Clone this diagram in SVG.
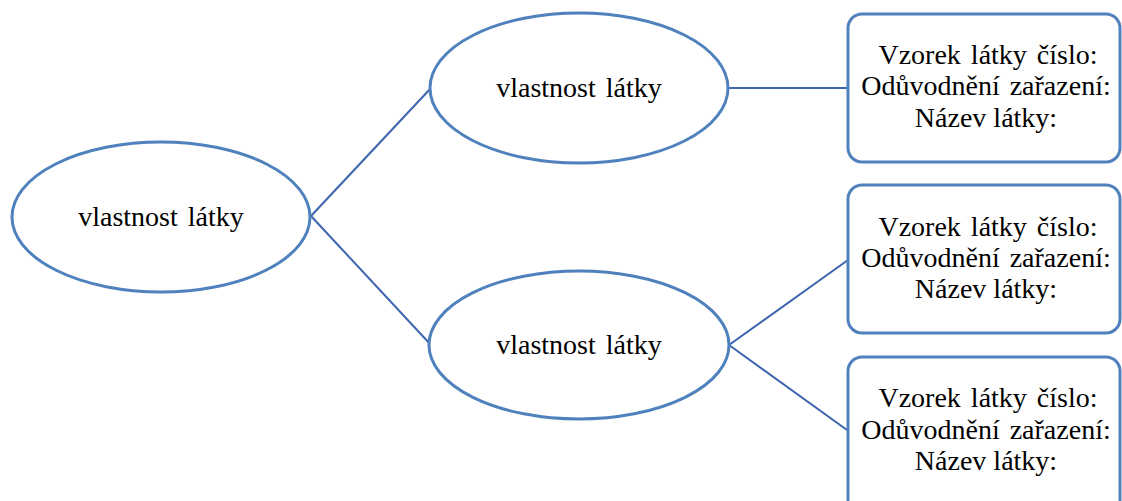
<svg xmlns="http://www.w3.org/2000/svg" width="1122" height="501" viewBox="0 0 1122 501">
<style>
.node{fill:#fff;stroke:#4F81BD;stroke-width:3}
.conn{stroke:#3D64AE;stroke-width:2;fill:none}
.t{font-family:'Liberation Serif','Times New Roman',Tinos,serif;font-size:28px;fill:#000;text-anchor:middle}
.w{word-spacing:3px}
</style>
<rect width="1122" height="501" fill="#fff"/>
<g id="connectors">
<line class="conn" x1="311" y1="216" x2="431" y2="88"/>
<line class="conn" x1="311" y1="216" x2="431" y2="345"/>
<line class="conn" x1="728" y1="88" x2="848" y2="88"/>
<line class="conn" x1="729" y1="345" x2="848" y2="260"/>
<line class="conn" x1="729" y1="345" x2="847" y2="430"/>
</g>
<g class="t">
<g id="root">
<ellipse class="node" cx="161" cy="217" rx="149" ry="75"/>
<text class="t w" x="161" y="226">vlastnost látky</text>
</g>
<g id="prop-top">
<ellipse class="node" cx="579" cy="88" rx="149" ry="75"/>
<text class="t w" x="579" y="97">vlastnost látky</text>
</g>
<g id="prop-bottom">
<ellipse class="node" cx="579" cy="345" rx="150" ry="74"/>
<text class="t w" x="579" y="354">vlastnost látky</text>
</g>
<g id="box1">
<rect class="node" x="848" y="14" width="272" height="148" rx="14"/>
<text class="t w" x="988" y="64">Vzorek látky číslo:</text>
<text class="t w" x="986" y="95">Odůvodnění zařazení:</text>
<text class="t" x="986" y="127">Název látky:</text>
</g>
<g id="box2">
<rect class="node" x="848" y="185" width="272" height="148" rx="14"/>
<text class="t w" x="988" y="236">Vzorek látky číslo:</text>
<text class="t w" x="986" y="267">Odůvodnění zařazení:</text>
<text class="t" x="986" y="298">Název látky:</text>
</g>
<g id="box3">
<rect class="node" x="848" y="357" width="272" height="160" rx="14"/>
<text class="t w" x="988" y="407">Vzorek látky číslo:</text>
<text class="t w" x="986" y="439">Odůvodnění zařazení:</text>
<text class="t" x="986" y="470">Název látky:</text>
</g>
</g>
</svg>
